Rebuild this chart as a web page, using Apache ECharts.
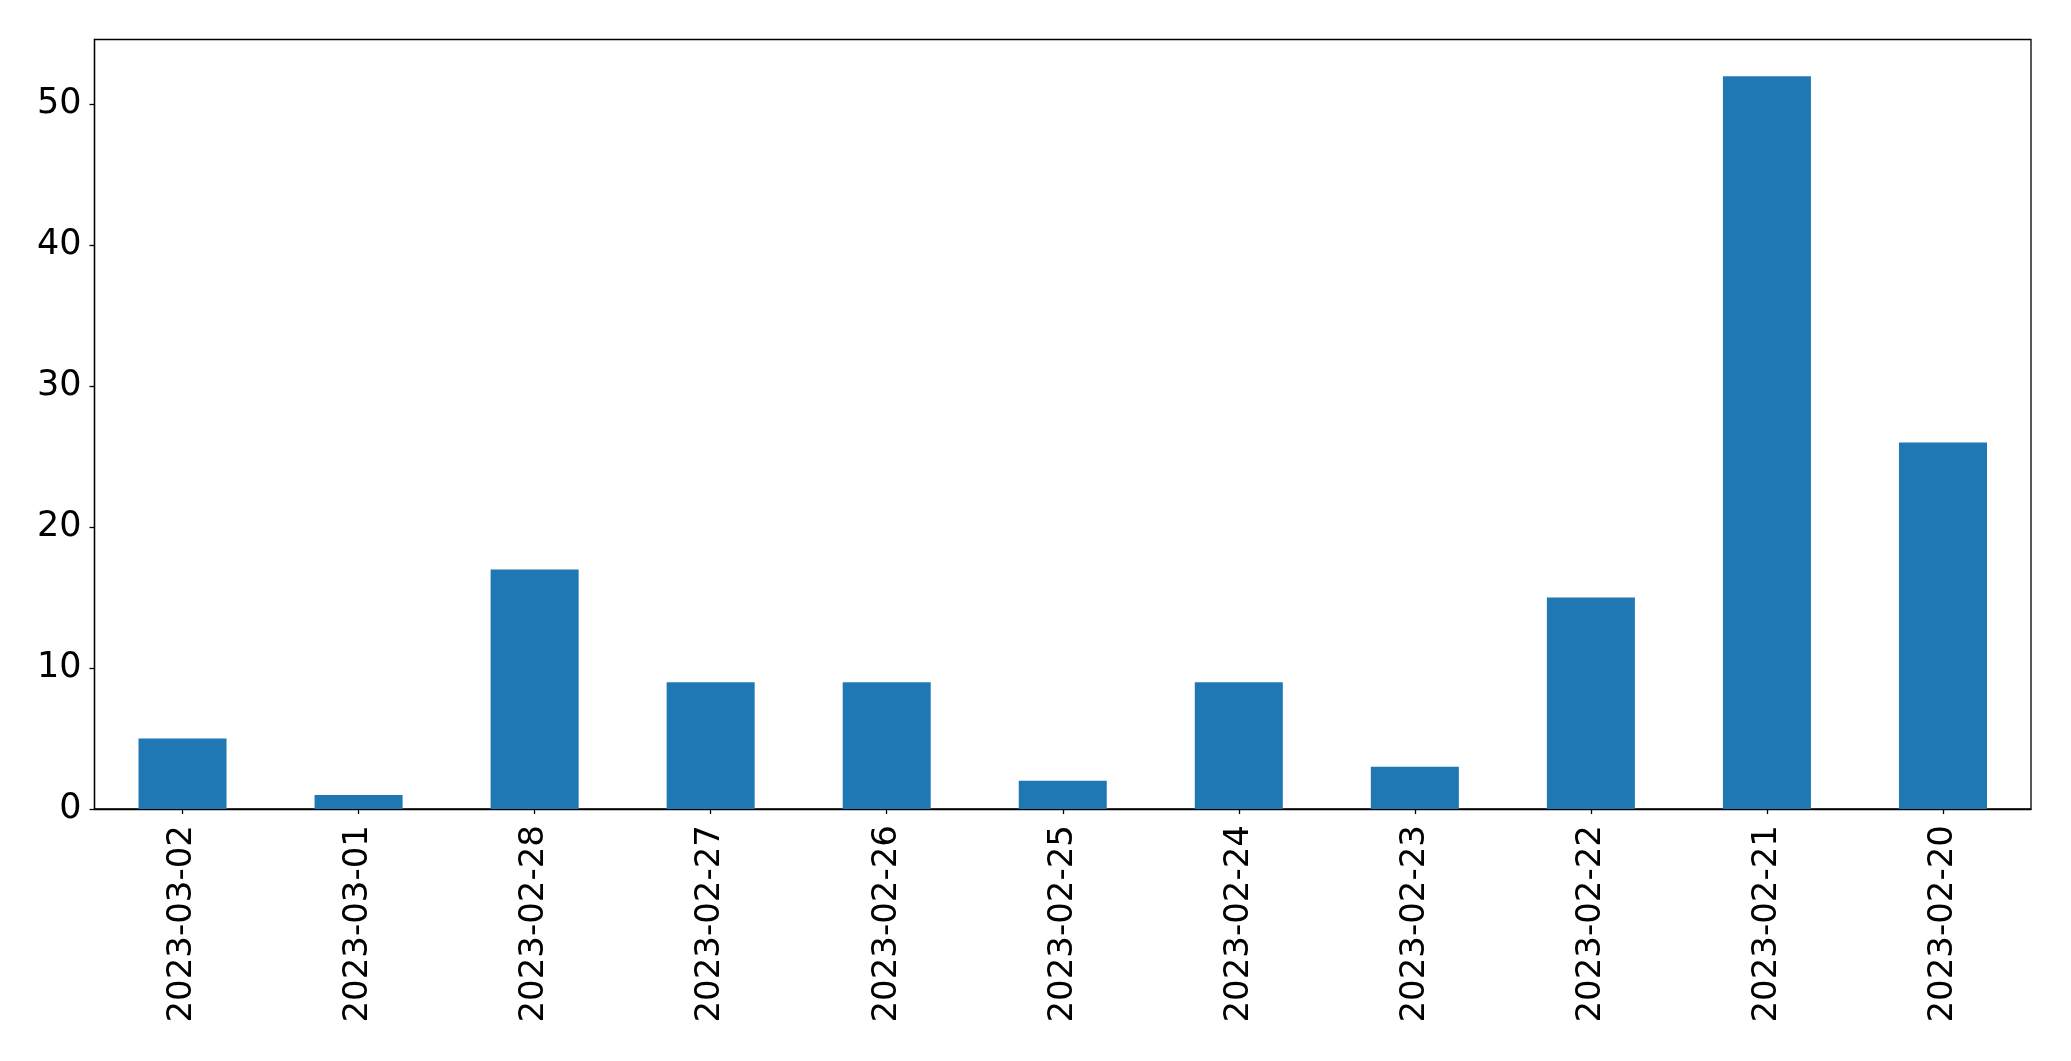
<!DOCTYPE html>
<html>
<head>
<meta charset="utf-8">
<script src="https://cdn.jsdelivr.net/npm/echarts@6/dist/echarts.min.js"></script>
<style>
html,body{margin:0;padding:0;background:#fff;}
#chart{width:2071px;height:1061px;}
</style>
</head>
<body>
<div id="chart"></div>
<script>
const categories = ['2023-03-02','2023-03-01','2023-02-28','2023-02-27','2023-02-26','2023-02-25','2023-02-24','2023-02-23','2023-02-22','2023-02-21','2023-02-20'];
const values = [5, 1, 17, 9, 9, 2, 9, 3, 15, 52, 26];
const yTicks = [0, 10, 20, 30, 40, 50];

const chart = echarts.init(document.getElementById('chart'), null, {renderer: 'canvas'});
const font = 'DejaVu Sans';
chart.setOption({
  animation: false,
  backgroundColor: '#ffffff',
  grid: {
    left: 94.5, right: 40, top: 39.5, bottom: 252,
    show: true, borderColor: '#000', borderWidth: 1.3, backgroundColor: 'transparent'
  },
  xAxis: {
    type: 'category',
    data: categories,
    boundaryGap: true,
    axisLine: {show: true, lineStyle: {color: '#000', width: 1.3}},
    axisTick: {show: true, alignWithLabel: true, length: 5, lineStyle: {color: '#000', width: 1.3}},
    axisLabel: {rotate: 90, fontSize: 34, fontFamily: font, color: '#000', margin: 16, interval: 0}
  },
  yAxis: {
    type: 'value',
    min: 0,
    max: 54.6,
    splitLine: {show: false},
    axisLine: {show: true, lineStyle: {color: '#000', width: 1.3}},
    axisTick: {show: true, length: 5, lineStyle: {color: '#000', width: 1.3}, customValues: yTicks},
    axisLabel: {fontSize: 35, fontFamily: font, color: '#000', margin: 13, customValues: yTicks}
  },
  series: [{
    type: 'bar',
    data: values,
    barWidth: '50%',
    itemStyle: {color: '#1f77b4'}
  }]
});
</script>
</body>
</html>
